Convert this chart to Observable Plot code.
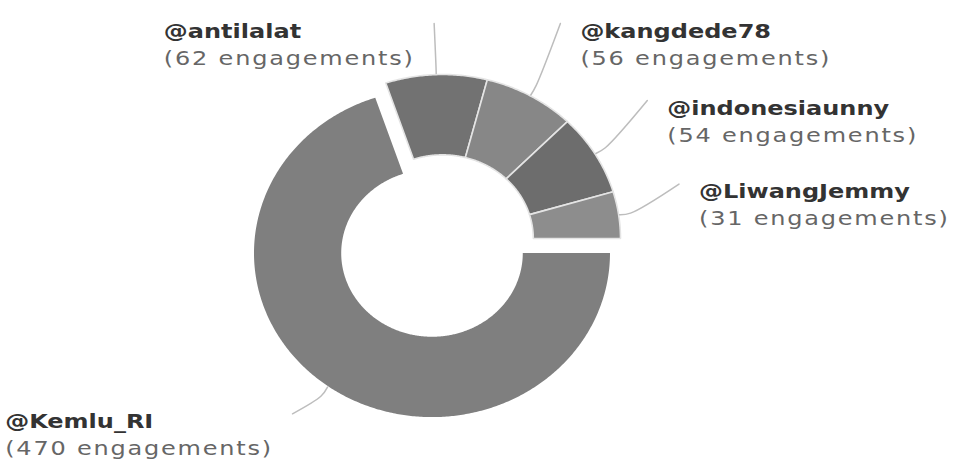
<!DOCTYPE html>
<html><head><meta charset="utf-8">
<script src="https://cdn.jsdelivr.net/npm/d3@7"></script>
<script src="https://cdn.jsdelivr.net/npm/@observablehq/plot@0.6"></script>
<style>
html,body{margin:0;padding:0;background:#fff;}
#chart{width:954px;height:468px;overflow:hidden;}
</style></head><body><div id="chart"></div>
<script>
// ---- data ----
const accounts = ["@Kemlu_RI", "@antilalat", "@kangdede78", "@indonesiaunny", "@LiwangJemmy"];
const engagements = [470, 62, 56, 54, 31];
const unitLabel = "engagements";

// ---- layout ----
const W = 954, H = 468;
const cx = 442, cy = 238, rx = 178, ry = 164, inner = 0.51, slicedOffset = 18;
const labelDist = 61, labelTop = 45, labelGap = 20;
const sliceColors = ["#7f7f7f", "#727272", "#878787", "#6d6d6d", "#8d8d8d"];
const textScaleX = 1.2;

const rows = accounts.map((name, i) => ({name, value: engagements[i]}));
const arcs = d3.pie().sort(null).value(d => d.value)
  .startAngle(Math.PI / 2).endAngle(Math.PI / 2 + 2 * Math.PI)(rows);
const maxValue = d3.max(engagements);

const geom = arcs.map(a => {
  const mid = (a.startAngle + a.endAngle) / 2;
  const off = a.data.value === maxValue ? slicedOffset : 0;
  return {...a, mid, sliced: off > 0,
    ox: cx + off * Math.sin(mid), oy: cy - off * Math.cos(mid)};
});
const pt = (g, t, k, extra = 0) => ({
  x: g.ox + (rx * k + extra) * Math.sin(t),
  y: g.oy - (ry * k + extra) * Math.cos(t)
});

const slicePts = [];
for (const g of geom) {
  const span = g.endAngle - g.startAngle;
  const n = Math.max(8, Math.ceil(span / 0.01));
  const name = g.data.name, sliced = g.sliced;
  for (let i = 0; i <= n; i++) slicePts.push({name, sliced, ...pt(g, g.startAngle + span * i / n, 1)});
  for (let i = n; i >= 0; i--) slicePts.push({name, sliced, ...pt(g, g.startAngle + span * i / n, inner)});
  slicePts.push({name, sliced, ...pt(g, g.startAngle, 1)});
}

const labels = geom.map(g => {
  const s = Math.sin(g.mid), c = Math.cos(g.mid);
  const lx = g.ox + (rx + labelDist) * s;
  const ly = Math.max(labelTop, g.oy - (ry + labelDist) * c);
  const right = s >= 0;
  return {name: g.data.name, value: g.data.value, right, lx, ly,
    tx: lx + (right ? labelGap : -labelGap),
    sub: `(${g.data.value} ${unitLabel})`};
});
const leaderPts = [];
geom.forEach((g, i) => {
  const L = labels[i];
  leaderPts.push({name: L.name, ...pt(g, g.mid, 1, 1)});
  leaderPts.push({name: L.name, ...pt(g, g.mid, 1, 12)});
  leaderPts.push({name: L.name, x: L.lx, y: L.ly - 22});
});

const font = "DejaVu Sans, Verdana, sans-serif";
const chart = Plot.plot({
  width: W, height: H,
  margin: 0,
  style: {fontFamily: font, background: "#fff"},
  x: {domain: [0, W], range: [0, W], axis: null},
  y: {domain: [0, H], range: [0, H], axis: null},
  color: {domain: accounts, range: sliceColors},
  marks: [
    Plot.line(slicePts.filter(d => d.sliced), {x: "x", y: "y", z: "name", fill: "name", stroke: "none"}),
    Plot.line(slicePts.filter(d => !d.sliced), {x: "x", y: "y", z: "name", fill: "name", stroke: "#e4e4e4", strokeWidth: 1.6, strokeLinejoin: "miter"}),
    Plot.line(leaderPts, {x: "x", y: "y", z: "name", stroke: "#bdbdbd", strokeWidth: 1.5, curve: "catmull-rom"}),
    Plot.text(labels.filter(d => d.right), {x: "tx", y: d => d.ly - 14, text: "name", textAnchor: "start", fontWeight: "bold", fill: "#333", fontSize: 20}),
    Plot.text(labels.filter(d => !d.right), {x: "tx", y: d => d.ly - 14, text: "name", textAnchor: "end", fontWeight: "bold", fill: "#333", fontSize: 20}),
    Plot.text(labels.filter(d => d.right), {x: "tx", y: d => d.ly + 13, text: "sub", textAnchor: "start", fill: "#666", fontSize: 20}),
    Plot.text(labels.filter(d => !d.right), {x: "tx", y: d => d.ly + 13, text: "sub", textAnchor: "end", fill: "#666", fontSize: 20})
  ]
});

function parseTranslate(tr) {
  const m = /translate\(\s*([-\d.e]+)[\s,]+([-\d.e]+)\s*\)/.exec(tr || "");
  return m ? [+m[1], +m[2]] : [0, 0];
}
// widen label glyphs like the original typeface
chart.querySelectorAll("g[aria-label='text']").forEach(g => {
  const bold = g.getAttribute("font-weight") === "bold";
  g.querySelectorAll("text").forEach(t => {
    if (!bold) t.style.letterSpacing = "1.5px";
    let tr = t.getAttribute("transform");
    if (!tr) {
      const x = t.getAttribute("x") || 0, y = t.getAttribute("y") || 0;
      t.removeAttribute("x"); t.removeAttribute("y");
      tr = `translate(${x},${y})`;
    }
    t.setAttribute("transform", tr + ` scale(${textScaleX},1)`);
  });
});
document.getElementById("chart").appendChild(chart);

// left-side label blocks: lines share a common left edge
const textGroups = [...chart.querySelectorAll("g[aria-label='text']")];
const svgLeft = chart.getBoundingClientRect().left;
const boldLeft = [...textGroups[1].querySelectorAll("text")];
const subLeft = [...textGroups[3].querySelectorAll("text")];
boldLeft.forEach((b, i) => {
  const s = subLeft[i];
  const left = Math.min(b.getBoundingClientRect().left, s.getBoundingClientRect().left) - svgLeft;
  [b, s].forEach(t => {
    const [, y] = parseTranslate(t.getAttribute("transform"));
    t.setAttribute("text-anchor", "start");
    t.setAttribute("transform", `translate(${left},${y}) scale(${textScaleX},1)`);
  });
});
</script>
</body></html>
